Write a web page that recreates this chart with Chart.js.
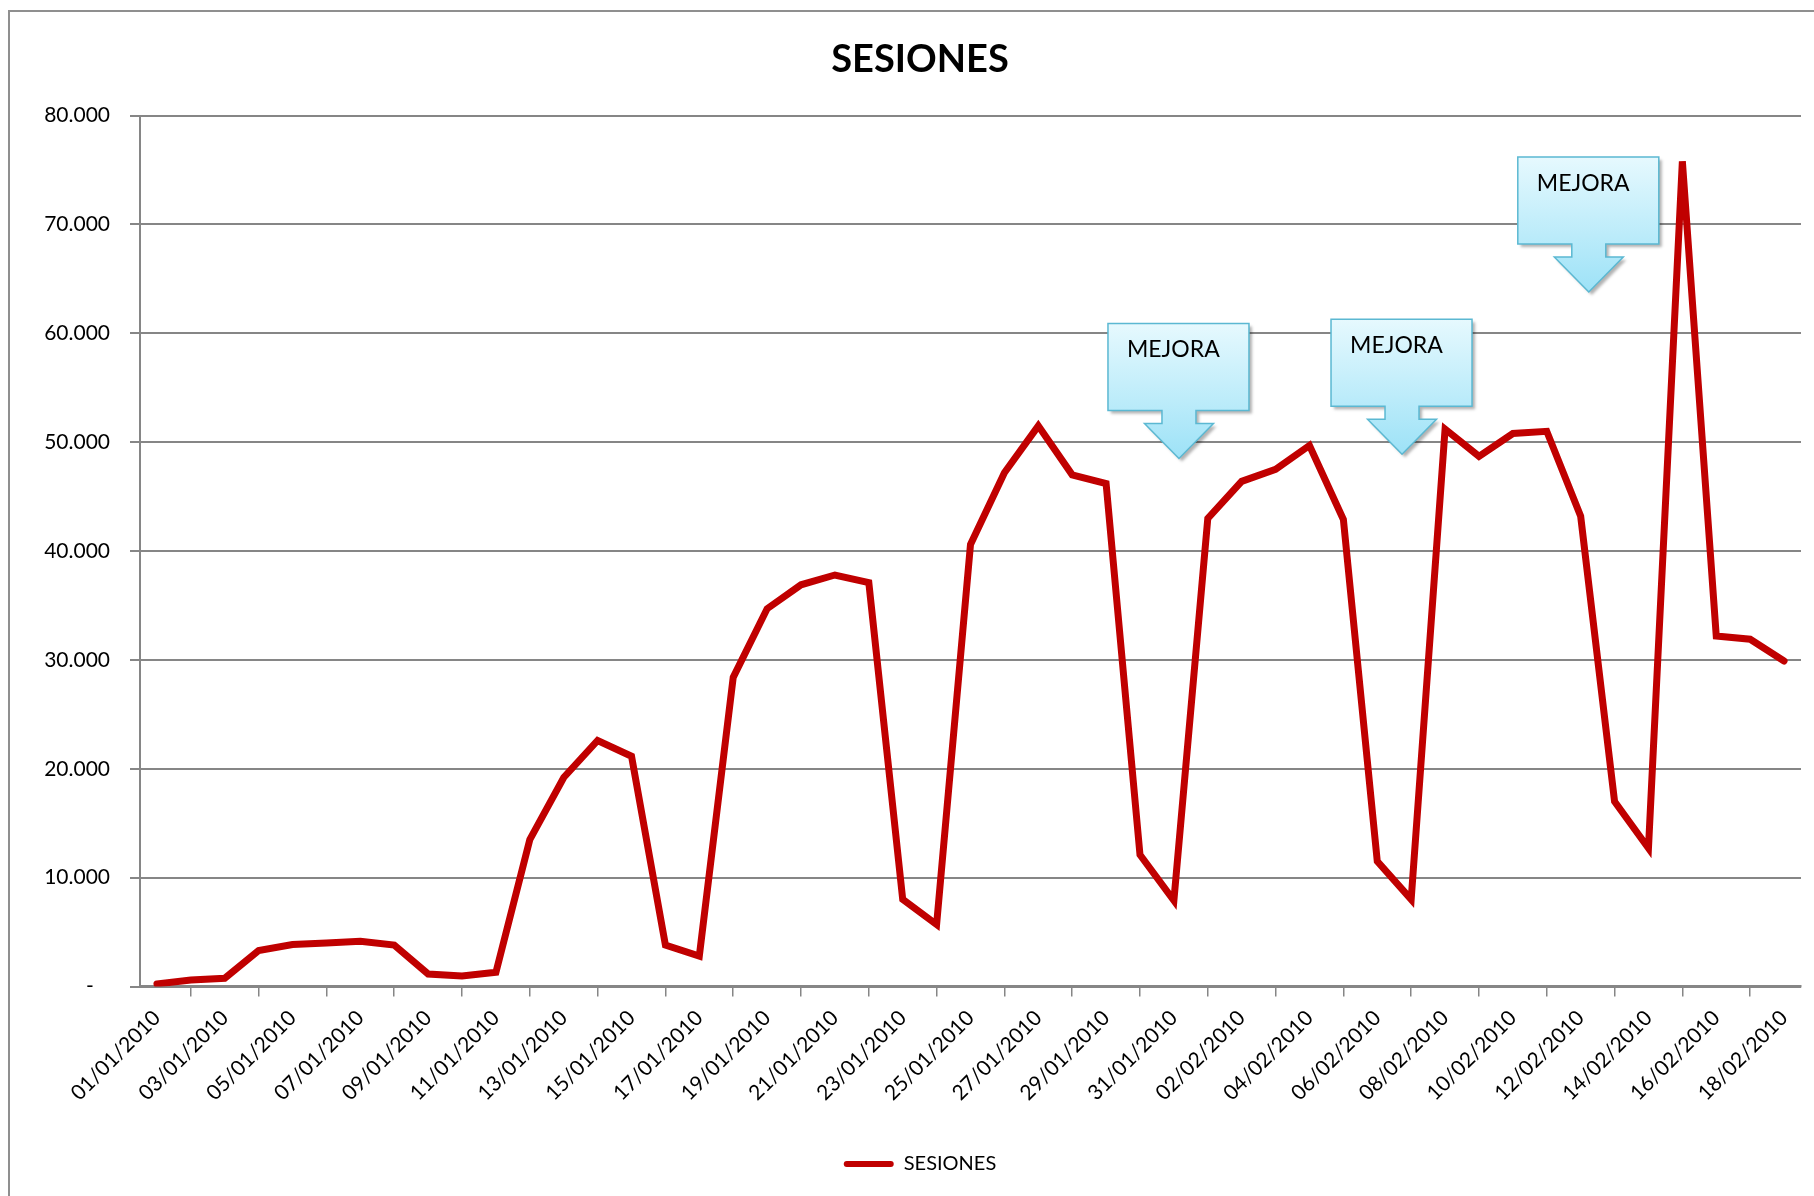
<!DOCTYPE html>
<html>
<head>
<meta charset="utf-8">
<script src="https://cdn.jsdelivr.net/npm/chart.js@4/dist/chart.umd.min.js"></script>
<style>
  body { margin: 0; background: #fff; overflow: hidden; }
  #marco {
    position: absolute; left: 8px; top: 10px;
    border-left: 2px solid #8f8f8f; border-top: 2px solid #8f8f8f;
  }
  canvas { display: block; }
</style>
</head>
<body>
<div id="marco"><canvas id="grafico" width="1820" height="1184"></canvas></div>
<script>
// fechas del eje X
const fechas = [
  '01/01/2010', '02/01/2010', '03/01/2010', '04/01/2010', '05/01/2010', '06/01/2010', '07/01/2010',
  '08/01/2010', '09/01/2010', '10/01/2010', '11/01/2010', '12/01/2010', '13/01/2010', '14/01/2010',
  '15/01/2010', '16/01/2010', '17/01/2010', '18/01/2010', '19/01/2010', '20/01/2010', '21/01/2010',
  '22/01/2010', '23/01/2010', '24/01/2010', '25/01/2010', '26/01/2010', '27/01/2010', '28/01/2010',
  '29/01/2010', '30/01/2010', '31/01/2010', '01/02/2010', '02/02/2010', '03/02/2010', '04/02/2010',
  '05/02/2010', '06/02/2010', '07/02/2010', '08/02/2010', '09/02/2010', '10/02/2010', '11/02/2010',
  '12/02/2010', '13/02/2010', '14/02/2010', '15/02/2010', '16/02/2010', '17/02/2010', '18/02/2010'
];

// sesiones diarias
const sesiones = [
  240, 600, 760, 3300, 3850, 4000, 4150, 3800, 1150, 970,
  1300, 13500, 19200, 22600, 21150, 3800, 2800, 28400, 34700, 36900,
  37800, 37100, 8000, 5700, 40600, 47200, 51500, 47000, 46200, 12100,
  7900, 43000, 46400, 47500, 49700, 42900, 11500, 8000, 51200, 48700,
  50800, 51000, 43200, 17000, 12700, 75800, 32200, 31900, 29900
];

// marcas "MEJORA": posicion (indice de categoria) y valor de la punta de la flecha
const mejoraPos = [30.15, 36.73, 42.24];
const mejoraValor = [48500, 48900, 63800];
const mejoraTexto = ['MEJORA', 'MEJORA', 'MEJORA'];

const GRIS = '#868686';
Chart.defaults.font.family = 'Lato';
Chart.defaults.color = '#000';

const formatoMiles = (v) => v === 0 ? '-   ' : String(v).replace(/\B(?=(\d{3})+(?!\d))/g, '.');

// dibuja las flechas con texto encima del grafico
const flechasMejora = {
  id: 'flechasMejora',
  afterDraw(chart) {
    const ctx = chart.ctx;
    const xs = chart.scales.x, ys = chart.scales.y;
    mejoraPos.forEach((p, i) => {
      const a = Math.floor(p);
      const x0 = xs.getPixelForValue(a), x1 = xs.getPixelForValue(a + 1);
      const tx = x0 + (x1 - x0) * (p - a);
      const ty = ys.getPixelForValue(mejoraValor[i]);
      const bl = tx - 71, br = tx + 70, bt = ty - 135, bb = ty - 48;

      ctx.save();
      ctx.beginPath();
      ctx.moveTo(bl, bt);
      ctx.lineTo(br, bt);
      ctx.lineTo(br, bb);
      ctx.lineTo(tx + 17, bb);
      ctx.lineTo(tx + 17, ty - 35);
      ctx.lineTo(tx + 34.5, ty - 35);
      ctx.lineTo(tx, ty);
      ctx.lineTo(tx - 34.5, ty - 35);
      ctx.lineTo(tx - 17, ty - 35);
      ctx.lineTo(tx - 17, bb);
      ctx.lineTo(bl, bb);
      ctx.closePath();
      const grad = ctx.createLinearGradient(0, bt, 0, ty);
      grad.addColorStop(0, '#e6f9fe');
      grad.addColorStop(1, '#9de2f7');
      ctx.shadowColor = 'rgba(0,0,0,0.3)';
      ctx.shadowBlur = 3;
      ctx.shadowOffsetX = 3;
      ctx.shadowOffsetY = 3;
      ctx.fillStyle = grad;
      ctx.fill();
      ctx.shadowColor = 'transparent';
      ctx.strokeStyle = '#5bb8d2';
      ctx.lineWidth = 1.5;
      ctx.stroke();
      ctx.fillStyle = '#000';
      ctx.font = '23px Lato';
      ctx.textBaseline = 'top';
      ctx.textAlign = 'left';
      ctx.fillText(mejoraTexto[i], bl + 19, bt + 15);
      ctx.restore();
    });
  }
};

new Chart(document.getElementById('grafico').getContext('2d'), {
  type: 'line',
  data: {
    labels: fechas,
    datasets: [{
      label: 'SESIONES',
      data: sesiones,
      borderColor: '#c00000',
      backgroundColor: '#c00000',
      borderWidth: 7,
      borderCapStyle: 'round',
      borderJoinStyle: 'miter',
      pointRadius: 0,
      tension: 0,
      fill: false
    }]
  },
  options: {
    responsive: false,
    animation: false,
    devicePixelRatio: 1,
    layout: { padding: { left: 0, right: 0, top: 0, bottom: 12 } },
    plugins: {
      title: {
        display: true,
        text: 'SESIONES',
        font: { size: 38, weight: 'bold' },
        color: '#000',
        padding: { top: 25, bottom: 33 }
      },
      legend: {
        position: 'bottom',
        labels: {
          boxWidth: 50,
          boxHeight: 6,
          padding: 22,
          font: { size: 20 },
          color: '#000',
          useBorderRadius: true,
          borderRadius: 3,
          generateLabels: (chart) => chart.data.datasets.map((ds, i) => ({
            text: ds.label,
            fillStyle: ds.borderColor,
            strokeStyle: ds.borderColor,
            lineWidth: 0,
            hidden: false,
            datasetIndex: i,
            borderRadius: 3
          }))
        }
      },
      tooltip: { enabled: false }
    },
    scales: {
      x: {
        offset: true,
        afterFit: (scale) => { scale.height = 145.5; },
        grid: {
          display: true,
          drawOnChartArea: false,
          drawTicks: true,
          tickLength: 10,
          offset: true,
          color: GRIS,
          lineWidth: 1.5
        },
        border: { display: true, color: GRIS, width: 2.5 },
        ticks: {
          autoSkip: false,
          maxRotation: 45,
          minRotation: 45,
          padding: 9,
          font: { size: 21 },
          color: '#000',
          callback: (v, i) => i % 2 === 0 ? fechas[i] : null
        }
      },
      y: {
        min: 0,
        max: 80000,
        afterFit: (scale) => { scale.width = 130; },
        grid: {
          color: GRIS,
          lineWidth: 2,
          drawTicks: true,
          tickLength: 10
        },
        border: { display: true, color: GRIS, width: 2 },
        ticks: {
          stepSize: 10000,
          padding: 20,
          font: { size: 21 },
          color: '#000',
          callback: formatoMiles
        }
      },
      // eje vacio a la derecha: solo reserva el margen
      y2: {
        position: 'right',
        display: true,
        afterFit: (scale) => { scale.width = 29; },
        grid: { display: false, drawTicks: false },
        border: { display: false },
        ticks: { display: false }
      }
    }
  },
  plugins: [flechasMejora]
});
</script>
</body>
</html>
